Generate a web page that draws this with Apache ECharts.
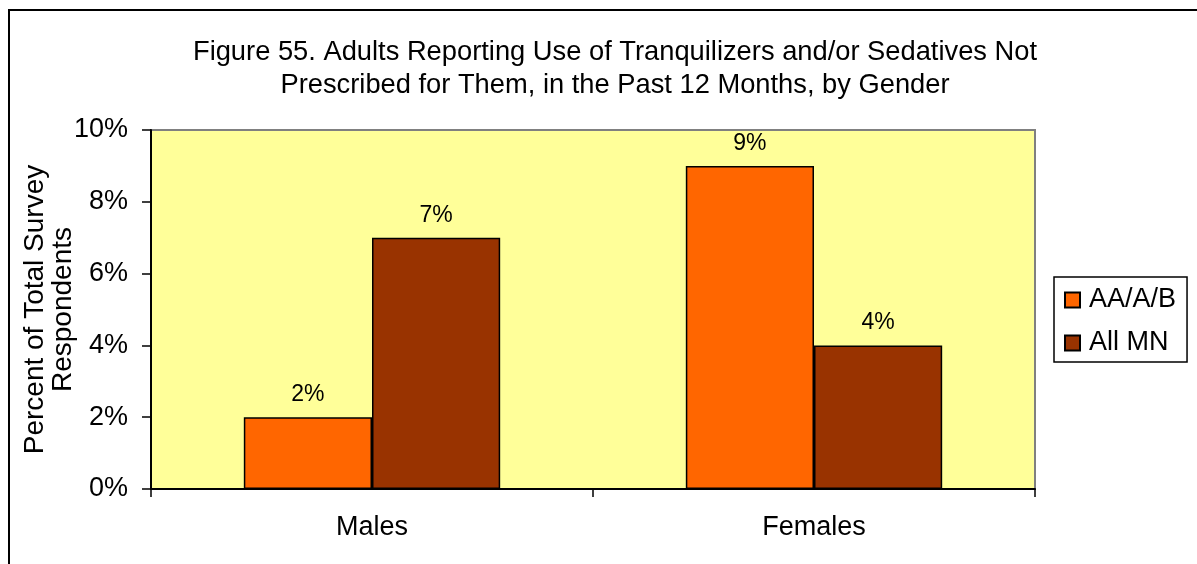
<!DOCTYPE html>
<html>
<head>
<meta charset="utf-8">
<script src="https://cdn.jsdelivr.net/npm/echarts@6/dist/echarts.min.js"></script>
<style>
html,body{margin:0;padding:0;background:#fff;}
#chart{width:1197px;height:564px;}
</style>
</head>
<body>
<div id="chart"></div>
<script>
// Chart data
const categories = ['Males', 'Females'];
const seriesNames = ['AA/A/B', 'All MN'];
const aaabValues = [2, 9];
const allMnValues = [7, 4];
const yTicks = [0, 2, 4, 6, 8, 10];

const FONT = '"Liberation Sans", Arial, sans-serif';
const chart = echarts.init(document.getElementById('chart'), null, {renderer: 'canvas'});

const barLabel = {
  show: true,
  position: 'top',
  distance: 11,
  formatter: p => p.value + '%',
  color: '#000',
  fontFamily: FONT,
  fontSize: 23
};

chart.setOption({
  backgroundColor: '#fff',
  animation: false,
  title: {
    text: 'Figure 55. Adults Reporting Use of Tranquilizers and/or Sedatives Not\nPrescribed for Them, in the Past 12 Months, by Gender',
    left: 610,
    textAlign: 'center',
    top: 31,
    textStyle: {fontFamily: FONT, fontSize: 27.3, fontWeight: 'normal', color: '#000', lineHeight: 33}
  },
  graphic: [
    {type: 'rect', z: 100, shape: {x: 9, y: 10, width: 1300, height: 700},
     style: {fill: 'none', stroke: '#000', lineWidth: 2}},
    {type: 'rect', z: 0, shape: {x: 151, y: 130, width: 884, height: 359},
     style: {fill: '#FFFF99', stroke: '#808080', lineWidth: 2}}
  ],
  legend: {
    orient: 'vertical',
    left: 1054,
    top: 277,
    padding: [8, 11, 4, 10],
    itemGap: 13,
    itemWidth: 15,
    itemHeight: 15,
    borderColor: '#000',
    borderWidth: 1.5,
    backgroundColor: '#fff',
    icon: 'rect',
    data: seriesNames,
    textStyle: {fontFamily: FONT, fontSize: 27, color: '#000', lineHeight: 30, padding: [0, 0, 0, 4]}
  },
  grid: {left: 151, top: 130, width: 884, height: 359, containLabel: false},
  xAxis: {
    type: 'category',
    data: categories,
    axisLine: {show: true, lineStyle: {color: '#000', width: 2}},
    axisTick: {show: true, inside: false, length: 8, alignWithLabel: false, lineStyle: {color: '#000', width: 1.5}},
    axisLabel: {fontFamily: FONT, fontSize: 27, color: '#000', margin: 25}
  },
  yAxis: {
    type: 'value',
    min: yTicks[0],
    max: yTicks[yTicks.length - 1],
    interval: 2,
    name: 'Percent of Total Survey\nRespondents',
    nameLocation: 'middle',
    nameMoveOverlap: false,
    nameGap: 74,
    nameTextStyle: {fontFamily: FONT, fontSize: 28, color: '#000', lineHeight: 28},
    axisLine: {show: true, lineStyle: {color: '#000', width: 2}},
    axisTick: {show: true, inside: false, length: 9, lineStyle: {color: '#000', width: 1.5}},
    axisLabel: {fontFamily: FONT, fontSize: 27, color: '#000', margin: 23, formatter: v => v + '%'},
    splitLine: {show: false}
  },
  series: [
    {
      name: seriesNames[0], type: 'bar', data: aaabValues,
      barGap: '0%', barCategoryGap: '42%',
      itemStyle: {color: '#FF6600', borderColor: '#000', borderWidth: 1.5},
      label: barLabel
    },
    {
      name: seriesNames[1], type: 'bar', data: allMnValues,
      itemStyle: {color: '#993300', borderColor: '#000', borderWidth: 1.5},
      label: barLabel
    }
  ]
});
</script>
</body>
</html>
